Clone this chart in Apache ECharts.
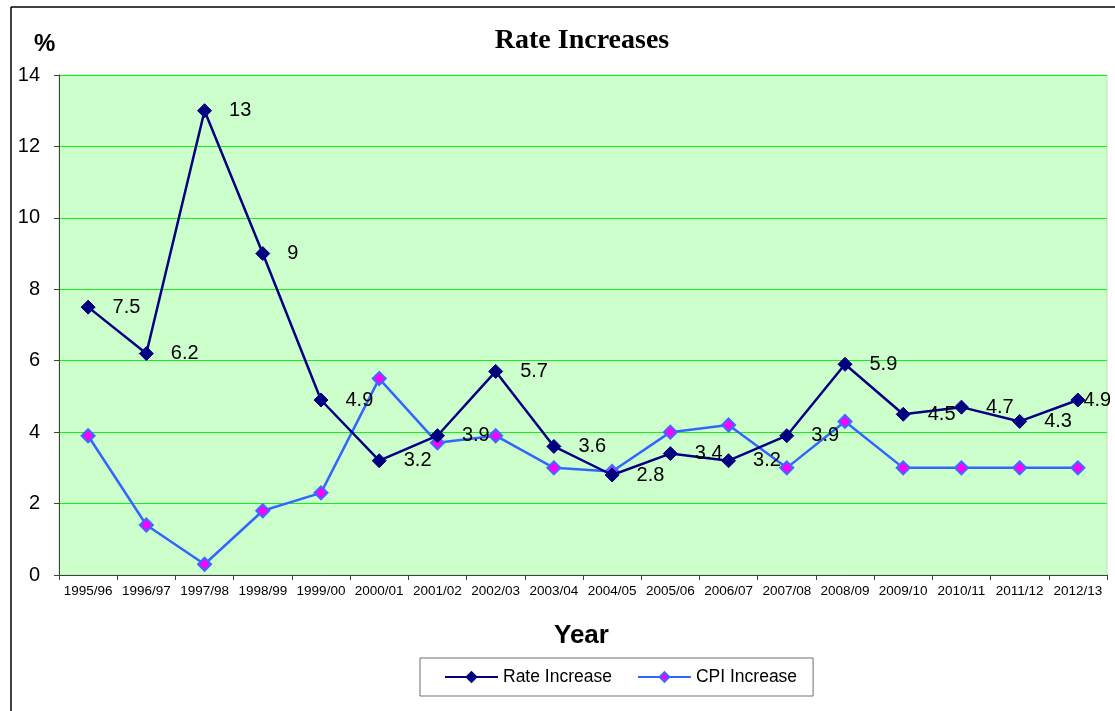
<!DOCTYPE html>
<html>
<head>
<meta charset="utf-8">
<script src="https://cdn.jsdelivr.net/npm/echarts@6/dist/echarts.min.js"></script>
<style>
  html, body { margin: 0; padding: 0; background: #ffffff; }
  #chart { width: 1115px; height: 711px; }
</style>
</head>
<body>
<div id="chart"></div>
<script>
// Financial years on the category axis
const years = ['1995/96', '1996/97', '1997/98', '1998/99', '1999/00', '2000/01',
  '2001/02', '2002/03', '2003/04', '2004/05', '2005/06', '2006/07',
  '2007/08', '2008/09', '2009/10', '2010/11', '2011/12', '2012/13'];

// Annual rate increase (%)
const rateIncrease = [7.5, 6.2, 13, 9, 4.9, 3.2, 3.9, 5.7, 3.6, 2.8, 3.4, 3.2,
  3.9, 5.9, 4.5, 4.7, 4.3, 4.9];

// Annual CPI increase (%)
const cpiIncrease = [3.9, 1.4, 0.3, 1.8, 2.3, 5.5, 3.7, 3.9, 3.0, 2.9, 4.0, 4.2,
  3.0, 4.3, 3.0, 3.0, 3.0, 3.0];

// Value axis range
const yMin = 0, yMax = 14, yStep = 2;

const chart = echarts.init(document.getElementById('chart'), null, { renderer: 'canvas' });

// Rate points carry value labels; the last one sits tight against its marker
const rateData = rateIncrease.map((v, i) => {
  const item = { value: v };
  if (i === rateIncrease.length - 1) item.label = { distance: -2 };
  return item;
});

chart.setOption({
  backgroundColor: '#ffffff',
  animation: false,
  title: {
    text: 'Rate Increases',
    left: 577,
    top: 22,
    textAlign: 'center',
    textStyle: {
      fontFamily: 'Liberation Serif, Times New Roman, serif',
      fontWeight: 'bold',
      fontSize: 28,
      color: '#000000'
    }
  },
  graphic: [
    // chart frame (left and top edges)
    { type: 'line', shape: { x1: 11, y1: 7, x2: 11, y2: 711 }, style: { stroke: '#000', lineWidth: 1.5 }, silent: true },
    { type: 'line', shape: { x1: 11, y1: 7, x2: 1115, y2: 7 }, style: { stroke: '#000', lineWidth: 1.5 }, silent: true },
    {
      type: 'text', left: 34, top: 32,
      style: { text: '%', font: 'bold 24px "Liberation Sans", Arial, sans-serif', fill: '#000' }
    },
    {
      type: 'text', left: 554, top: 623,
      style: { text: 'Year', font: 'bold 26px "Liberation Sans", Arial, sans-serif', fill: '#000' }
    }
  ],
  grid: {
    left: 59, right: 8, top: 75, bottom: 136,
    show: true,
    backgroundColor: '#ccffcc',
    borderColor: '#b8e0b8',
    borderWidth: 1
  },
  legend: {
    left: 420, top: 658,
    width: 391,
    padding: [10, 16, 10, 24],
    itemGap: 25,
    itemWidth: 53,
    itemHeight: 12,
    borderColor: '#707070',
    borderWidth: 1,
    textStyle: {
      fontFamily: 'Liberation Sans, Arial, sans-serif',
      fontSize: 17.5,
      color: '#000'
    },
    data: ['Rate Increase', 'CPI Increase']
  },
  xAxis: {
    type: 'category',
    data: years,
    boundaryGap: true,
    axisLine: { lineStyle: { color: '#404040', width: 1 } },
    axisTick: { show: true, length: 5, inside: false, lineStyle: { color: '#404040' } },
    axisLabel: {
      interval: 0,
      margin: 9,
      fontFamily: 'Liberation Sans, Arial, sans-serif',
      fontSize: 13.5,
      color: '#000'
    },
    splitLine: { show: false }
  },
  yAxis: {
    type: 'value',
    min: yMin, max: yMax, interval: yStep,
    axisLine: { show: true, lineStyle: { color: '#404040', width: 1 } },
    axisTick: { show: true, length: 5, lineStyle: { color: '#404040' } },
    axisLabel: {
      margin: 19,
      fontFamily: 'Liberation Sans, Arial, sans-serif',
      fontSize: 20,
      color: '#000'
    },
    splitLine: {
      show: true,
      lineStyle: { color: '#1aee1a', width: 1 }
    }
  },
  series: [
    {
      name: 'Rate Increase',
      type: 'line',
      data: rateData,
      symbol: 'diamond',
      symbolSize: 14,
      lineStyle: { color: '#000080', width: 2.5 },
      itemStyle: { color: '#000080', borderColor: '#000080', borderWidth: 1 },
      label: {
        show: true,
        position: 'right',
        distance: 17,
        fontFamily: 'Liberation Sans, Arial, sans-serif',
        fontSize: 20,
        color: '#000'
      },
      z: 3
    },
    {
      name: 'CPI Increase',
      type: 'line',
      data: cpiIncrease,
      symbol: 'diamond',
      symbolSize: 13,
      lineStyle: { color: '#3366ff', width: 2.5 },
      itemStyle: { color: '#ff00ff', borderColor: '#3a6cff', borderWidth: 2 },
      z: 2
    }
  ]
});
</script>
</body>
</html>
